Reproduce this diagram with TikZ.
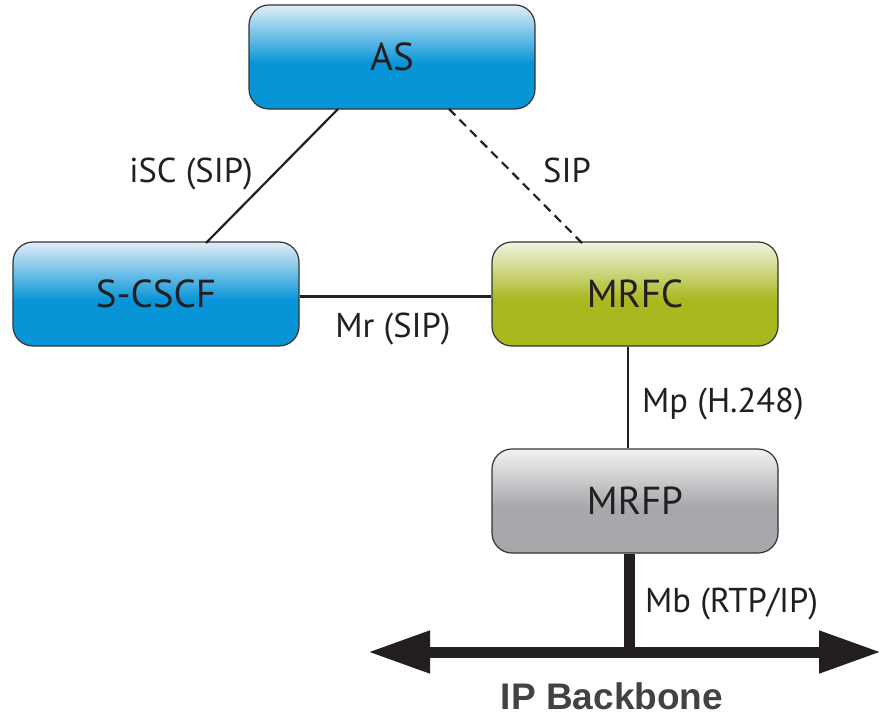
\documentclass[tikz,border=0pt]{standalone}
\usepackage{fontspec}
\setmainfont{PT Sans}
\newfontfamily\bbfont{Liberation Sans}
\usetikzlibrary{arrows.meta}
\definecolor{txt}{HTML}{231F20}
\definecolor{blueS}{HTML}{0795D8}
\definecolor{blueL}{HTML}{E2EEF8}
\definecolor{greenS}{HTML}{A9B81F}
\definecolor{greenL}{HTML}{F1F3E0}
\definecolor{grayS}{HTML}{A6A8AB}
\definecolor{grayL}{HTML}{F2F2F2}
\definecolor{edge}{HTML}{231F20}
\pgfdeclareverticalshading{blueshade}{100bp}{color(0bp)=(blueS); color(47bp)=(blueS); color(75bp)=(blueL); color(100bp)=(blueL)}
\pgfdeclareverticalshading{greenshade}{100bp}{color(0bp)=(greenS); color(47bp)=(greenS); color(75bp)=(greenL); color(100bp)=(greenL)}
\pgfdeclareverticalshading{grayshade}{100bp}{color(0bp)=(grayS); color(47bp)=(grayS); color(75bp)=(grayL); color(100bp)=(grayL)}
\begin{document}
\begin{tikzpicture}[x=1pt,y=-1pt,
  box/.style={draw=black!80, line width=1.2pt, rounded corners=20pt,
    minimum width=286pt, minimum height=104pt, inner sep=0pt,
    font=\fontsize{39}{44}\selectfont, text=txt},
  bluebox/.style={box, shading=blueshade},
  greenbox/.style={box, shading=greenshade},
  graybox/.style={box, shading=grayshade},
  lbl/.style={font=\fontsize{34.5}{38}\selectfont, text=txt, inner sep=0pt},
  conn/.style={draw=edge, line width=2.2pt}]
\useasboundingbox (0,0) rectangle (881,717);
\node[bluebox] (as) at (392,57) {AS};
\node[bluebox] (scscf) at (156,294) {S-CSCF};
\node[greenbox] (mrfc) at (635,294) {MRFC};
\node[graybox] (mrfp) at (635,501) {MRFP};

\coordinate (asL) at (338,109);
\coordinate (scT) at (206,243);
\coordinate (asR) at (449,109);
\coordinate (mcT) at (582,243);
\draw[conn] (asL) -- (scT);
\draw[conn, dash pattern=on 9pt off 6pt] (asR) -- (mcT);
\draw[conn, line width=3pt] (scscf.east |- 0,296) -- (mrfc.west |- 0,296);
\draw[conn, line width=2.5pt] (mrfc.south -| 628,0) -- (mrfp.north -| 628,0);

\coordinate (bbL) at (368,652);
\coordinate (bbR) at (881,652);
\coordinate (bbJ) at (629,652);
\draw[edge, line width=11pt] (mrfp.south -| 629,0) -- (bbJ);
\draw[edge, line width=11pt, {Triangle[length=62pt,width=40pt]}-{Triangle[length=62pt,width=40pt]}] (bbL) -- (bbR);

\node[lbl, anchor=base east] (l1) at (253,182) {iSC (SIP)};
\node[lbl, anchor=base west] (l2) at (543,182) {SIP};
\node[lbl, anchor=base] (l3) at (393,337) {Mr (SIP)};
\node[lbl, anchor=base west] (l4) at (642,412) {Mp (H.248)};
\node[lbl, anchor=base west] (l5) at (645,612) {Mb (RTP/IP)};
\node[font=\bbfont\bfseries\fontsize{37}{40}\selectfont, text=txt!85!white, inner sep=0pt, anchor=base] (bb) at (612,709) {IP Backbone};
\end{tikzpicture}
\end{document}
